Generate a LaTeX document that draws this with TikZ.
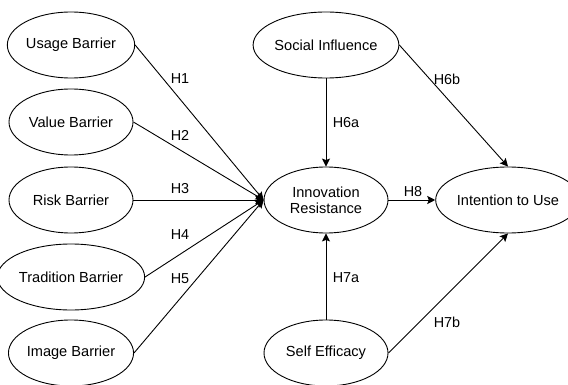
\documentclass[tikz,border=0pt]{standalone}
\usepackage{fontspec}
\setmainfont{Liberation Sans}
\usetikzlibrary{shapes.geometric,arrows.meta}
\begin{document}
\begin{tikzpicture}[x=1pt,y=-1pt,
  var/.style={draw,ellipse,line width=0.9pt,minimum width=124pt,minimum height=66pt,inner sep=0pt,font=\fontsize{14.6}{16}\selectfont,align=center},
  lbl/.style={font=\fontsize{14.4}{16}\selectfont,inner sep=0pt},
  arr/.style={line width=0.9pt,-{Stealth[length=8pt,width=8pt,inset=1.5pt]}}]
\useasboundingbox (0,0) rectangle (568,385);
\node[var] (ub) at (71,45) {Usage Barrier};
\node[var] (vb) at (71,122) {Value Barrier};
\node[var] (rb) at (71,200) {Risk Barrier};
\node[var] (tb) at (71,277) {Tradition Barrier};
\node[var] (ib) at (71,353) {Image Barrier};
\node[var] (si) at (326,45) {Social Influence};
\node[var] (ir) at (326,200) {Innovation\\Resistance};
\node[var] (se) at (326,353) {Self Efficacy};
\node[var,minimum width=120pt] (iu) at (508,200) {Intention to Use};
\draw[arr] (ub.east) -- (ir.west);
\draw[arr] (vb.east) -- (ir.west);
\draw[arr] (rb.east) -- (ir.west);
\draw[arr] (tb.east) -- (ir.west);
\draw[arr] (ib.east) -- (ir.west);
\draw[arr] (si.south) -- (ir.north);
\draw[arr] (si.east) -- (iu.north);
\draw[arr] (se.north) -- (ir.south);
\draw[arr] (se.east) -- (iu.south);
\draw[arr] (ir.east) -- (iu.west);
\node[lbl] (h1) at (180,79) {H1};
\node[lbl] (h2) at (180,135) {H2};
\node[lbl] (h3) at (180,189) {H3};
\node[lbl] (h4) at (180,235) {H4};
\node[lbl] (h5) at (180,279) {H5};
\node[lbl] (h6a) at (346,123) {H6a};
\node[lbl] (h6b) at (447,79) {H6b};
\node[lbl] (h8) at (413,192) {H8};
\node[lbl] (h7a) at (346,278) {H7a};
\node[lbl] (h7b) at (447,322) {H7b};
\end{tikzpicture}
\end{document}
